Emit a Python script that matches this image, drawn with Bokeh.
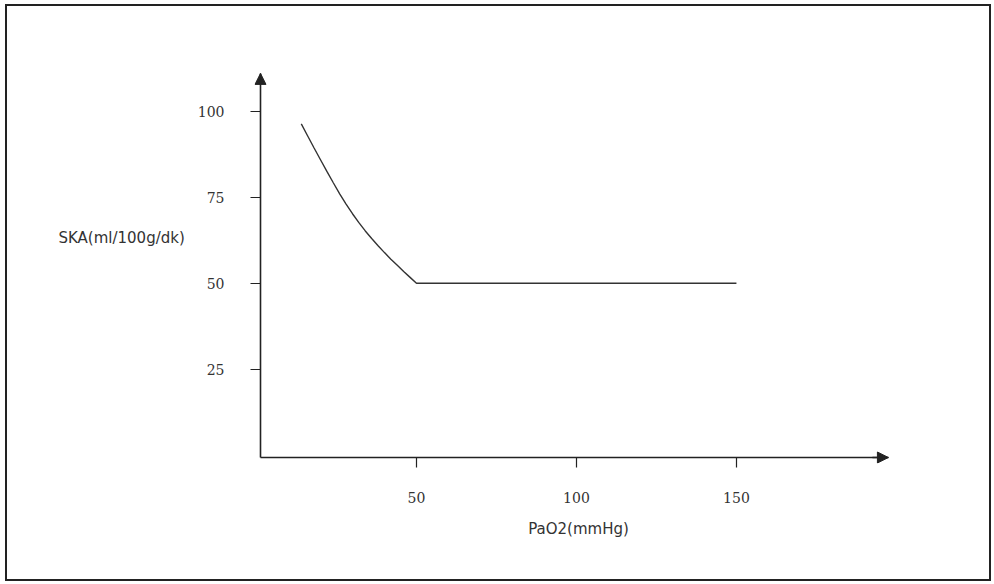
from bokeh.plotting import figure
from bokeh.models import FixedTicker, Arrow, NormalHead, Range1d, LinearAxis
from bokeh.embed import file_html
from bokeh.resources import INLINE

# data
pao2 = [14, 16, 18, 20, 22, 24, 26, 28, 30, 32, 34, 36, 38, 40, 42, 44, 46, 48, 50, 150]
ska = [96.3, 92.8, 89.3, 85.9, 82.5, 79.2, 76.0, 73.0, 70.2, 67.6, 65.2, 63.0,
       60.9, 58.9, 57.0, 55.2, 53.4, 51.7, 50, 50]
x_ticks = [50, 100, 150]
y_ticks = [25, 50, 75, 100]
x_title = "PaO2(mmHg)"
y_title = "SKA(ml/100g/dk)"

# axis extents (origin and arrow tips) in data units
ax_x0, ax_x1 = 1.25, 197.5
ax_y0, ax_y1 = -0.67, 111

p = figure(frame_width=648, frame_height=451,
           min_border_left=247, min_border_right=87,
           min_border_top=6, min_border_bottom=116,
           x_range=Range1d(-0.625, 201.9), y_range=Range1d(-2.41, 128.7),
           output_backend="svg", toolbar_location=None,
           background_fill_color="white", border_fill_color="white")
p.styles = {"border": "2px solid #222", "margin": "4px 0px 0px 5px"}
p.grid.visible = False
p.outline_line_color = None

ink = "#222222"
txt = "#333333"

# panel axes: ticks, tick labels and titles
for ax in (p.xaxis, p.yaxis):
    ax.axis_line_color = None
    ax.major_tick_line_color = ink
    ax.major_tick_line_width = 1.2
    ax.major_tick_in = 6
    ax.major_tick_out = 4
    ax.minor_tick_line_color = None
    ax.major_label_text_font = "DejaVu Serif"
    ax.major_label_text_font_size = "14px"
    ax.major_label_text_color = txt
    ax.axis_label_text_font = "DejaVu Sans"
    ax.axis_label_text_font_style = "normal"
    ax.axis_label_text_font_size = "15px"
    ax.axis_label_text_color = txt

p.xaxis.ticker = FixedTicker(ticks=x_ticks)
p.yaxis.ticker = FixedTicker(ticks=y_ticks)
p.xaxis.major_label_standoff = 24
p.yaxis.major_label_standoff = 26
p.xaxis.axis_label = x_title
p.xaxis.axis_label_standoff = 14
p.xaxis.bounds = (ax_x0, ax_x1)
p.yaxis.axis_label = y_title
p.yaxis.axis_label_orientation = "horizontal"
p.yaxis.axis_label_standoff = 10
p.yaxis.bounds = (15, ax_y1)

# axis lines through the origin
xline = LinearAxis(fixed_location=ax_y0, bounds=(ax_x0, ax_x1),
                   ticker=FixedTicker(ticks=[]), axis_line_color=ink,
                   axis_line_width=1.6, major_tick_line_color=None,
                   minor_tick_line_color=None, major_tick_out=0, minor_tick_out=0)
yline = LinearAxis(fixed_location=ax_x0, bounds=(ax_y0, ax_y1),
                   ticker=FixedTicker(ticks=[]), axis_line_color=ink,
                   axis_line_width=1.6, major_tick_line_color=None,
                   minor_tick_line_color=None, major_tick_out=0, minor_tick_out=0)
p.add_layout(xline, "below")
p.add_layout(yline, "left")

p.line(pao2, ska, line_color="#333333", line_width=1.4)

head = dict(size=11, fill_color=ink, line_color=ink)
p.add_layout(Arrow(end=NormalHead(**head), x_start=ax_x1 - 5, y_start=ax_y0,
                   x_end=ax_x1, y_end=ax_y0, line_color=ink, line_width=1.6))
p.add_layout(Arrow(end=NormalHead(**head), x_start=ax_x0, y_start=ax_y1 - 3,
                   x_end=ax_x0, y_end=ax_y1, line_color=ink, line_width=1.6))

open("out.html", "w").write(file_html(p, INLINE))
